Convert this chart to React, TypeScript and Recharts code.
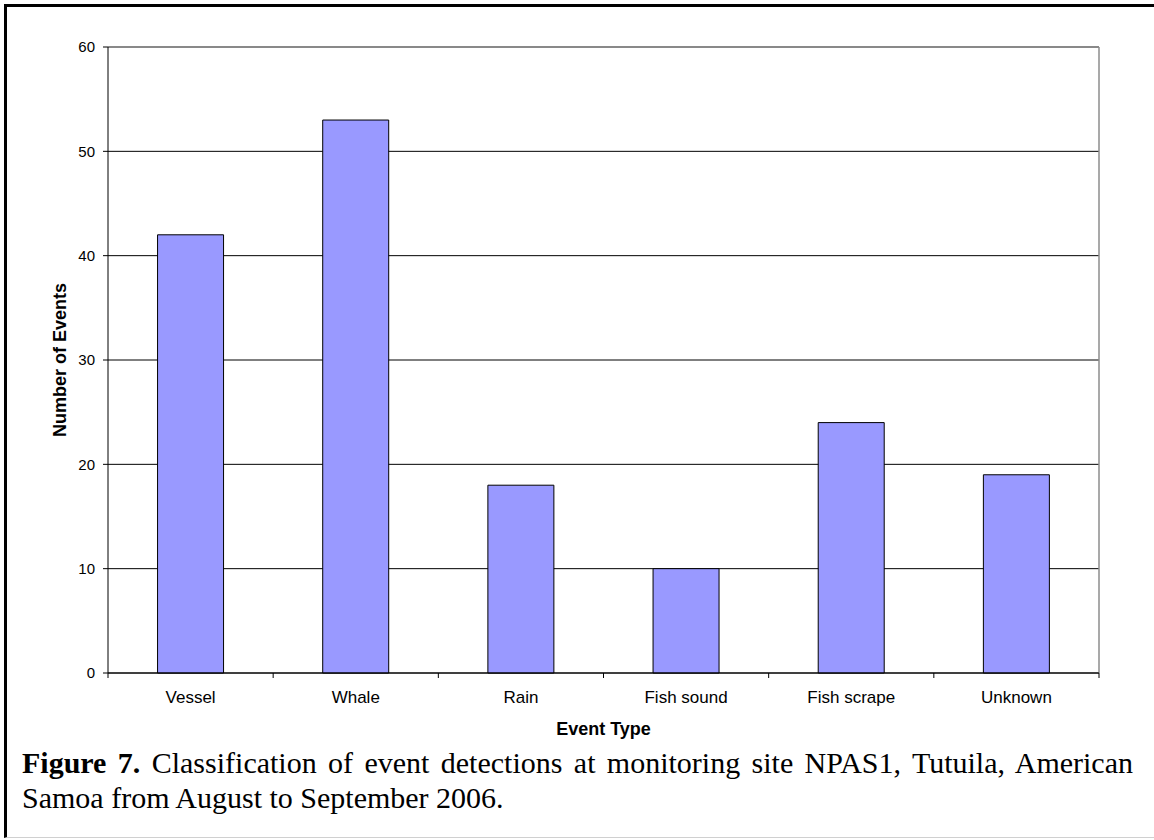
import {
  BarChart,
  Bar,
  XAxis,
  YAxis,
  CartesianGrid,
} from 'recharts'

// event classification counts, NPAS1 Aug-Sep 2006
const categories = ['Vessel', 'Whale', 'Rain', 'Fish sound', 'Fish scrape', 'Unknown']
const counts = [42, 53, 18, 10, 24, 19]
const yTicks = [0, 10, 20, 30, 40, 50, 60]

const data = categories.map((name, i) => ({ name, count: counts[i] }))

const sans = '"Liberation Sans", Arial, sans-serif'
const serif = '"Liberation Serif", "Times New Roman", serif'
const TICK_GAP = 18

// excel-style category tick: marks sit on the band edges, label in the middle
function CategoryTick(props: any) {
  const { x, y, payload, index, visibleTicksCount } = props
  const half = payload.offset ?? 0
  const axisY = y - TICK_GAP
  const last = index === visibleTicksCount - 1
  return (
    <g>
      <line x1={x - half} x2={x - half} y1={axisY} y2={axisY + 5} stroke="#000" />
      {last && <line x1={x + half} x2={x + half} y1={axisY} y2={axisY + 5} stroke="#000" />}
      <text x={x} y={y} dy="0.71em" textAnchor="middle" fontSize={17} fill="#000">
        {payload.value}
      </text>
    </g>
  )
}

export default function App() {
  return (
    <div style={{ position: 'absolute', left: 0, top: 0, width: 1154, height: 840, background: '#fff', overflow: 'hidden' }}>
      <div
        style={{
          position: 'absolute',
          left: 4,
          top: 4,
          width: 1160,
          height: 830,
          borderLeft: '3px solid #000',
          borderTop: '3px solid #000',
          borderBottom: '1px solid #d0d0d0',
        }}
      />
      <div style={{ position: 'absolute', left: 0, top: 0 }}>
        <BarChart
          width={1154}
          height={760}
          data={data}
          margin={{ top: 47, right: 55, left: 48, bottom: 17 }}
          barCategoryGap="30%"
          style={{ fontFamily: sans }}
        >
          <CartesianGrid vertical={false} stroke="#000" />
          {/* grey frame on top and right of the plot */}
          <CartesianGrid
            stroke="#8c8c8c"
            strokeWidth={1.5}
            horizontalCoordinatesGenerator={({ offset }: any) => [offset.top]}
            verticalCoordinatesGenerator={({ offset }: any) => [offset.left + offset.width]}
          />
          <XAxis
            dataKey="name"
            height={70}
            tickSize={0}
            tickMargin={TICK_GAP}
            tickLine={false}
            axisLine={{ stroke: '#000' }}
            tick={<CategoryTick />}
            interval={0}
            label={{
              value: 'Event Type',
              position: 'insideBottom',
              offset: 8,
              style: { fontSize: 18, fontWeight: 'bold', fill: '#000' },
            }}
          />
          <YAxis
            domain={[0, 60]}
            ticks={yTicks}
            width={60}
            tickSize={5}
            tickMargin={8}
            stroke="#000"
            tick={{ fontSize: 15, fill: '#000' }}
            label={{
              value: 'Number of Events',
              angle: -90,
              position: 'insideLeft',
              offset: 12,
              style: { textAnchor: 'middle', fontSize: 18, fontWeight: 'bold', fill: '#000' },
            }}
          />
          <Bar
            dataKey="count"
            fill="#9999ff"
            stroke="#000"
            strokeWidth={1}
            isAnimationActive={false}
          />
        </BarChart>
      </div>
      <div
        style={{
          position: 'absolute',
          left: 22,
          top: 748,
          width: 1111,
          fontFamily: serif,
          fontSize: 30,
          lineHeight: '30px',
          color: '#000',
          textAlign: 'justify',
          textAlignLast: 'justify',
        }}
      >
        <b>Figure 7.</b> Classification of event detections at monitoring site NPAS1, Tutuila, American
      </div>
      <div
        style={{
          position: 'absolute',
          left: 22,
          top: 783,
          fontFamily: serif,
          fontSize: 30,
          lineHeight: '30px',
          color: '#000',
          whiteSpace: 'nowrap',
        }}
      >
        Samoa from August to September 2006.
      </div>
    </div>
  )
}
